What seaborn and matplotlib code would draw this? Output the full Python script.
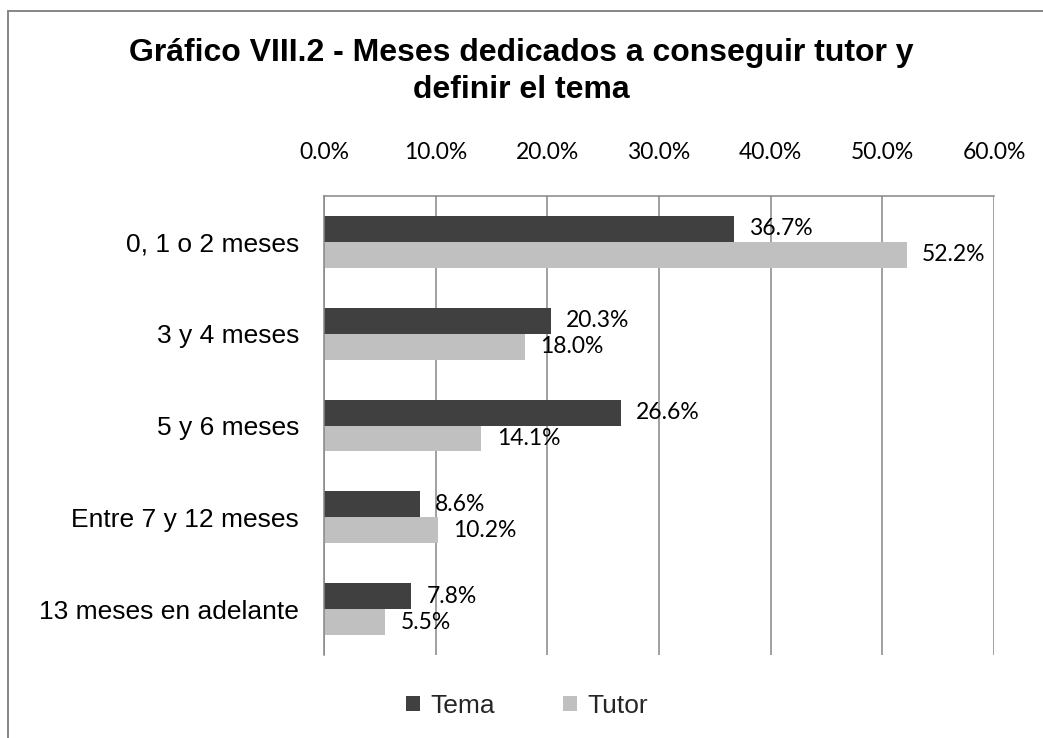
import matplotlib
matplotlib.use("Agg")
import matplotlib.pyplot as plt
import seaborn as sns
import pandas as pd
from matplotlib.lines import Line2D

categories = ["0, 1 o 2 meses", "3 y 4 meses", "5 y 6 meses", "Entre 7 y 12 meses", "13 meses en adelante"]
tema = [36.7, 20.3, 26.6, 8.6, 7.8]
tutor = [52.2, 18.0, 14.1, 10.2, 5.5]
series_names = ["Tema", "Tutor"]
x_ticks = [0, 10, 20, 30, 40, 50, 60]
title = "Gráfico VIII.2 - Meses dedicados a conseguir tutor y\ndefinir el tema"

df = pd.DataFrame({
    "cat": categories * 2,
    "val": tema + tutor,
    "serie": [series_names[0]] * len(categories) + [series_names[1]] * len(categories),
})

sns.set_style("white")
plt.rcParams["font.family"] = ["Liberation Sans", "DejaVu Sans"]

W, H = 1043, 738
fig = plt.figure(figsize=(W / 100, H / 100), dpi=100)
fig.patch.set_facecolor("white")

x0, x1, ytop, ybot = 324, 994, 196, 655
ax = fig.add_axes([x0 / W, 1 - ybot / H, (x1 - x0) / W, (ybot - ytop) / H])

grid_c = "#868686"
palette = {"Tema": "#404040", "Tutor": "#C0C0C0"}
sns.barplot(data=df, y="cat", x="val", hue="serie", orient="h", palette=palette,
            width=0.566, gap=0, saturation=1, order=categories, hue_order=series_names,
            ax=ax, linewidth=0, legend=True)

ax.set_xlim(0, 60)
ax.set_xticks(x_ticks)
ax.xaxis.tick_top()
ax.set_xticklabels([f"{t:.1f}%" for t in x_ticks], family=["Lato", "DejaVu Sans"], fontsize=16.5, color="#000000")
ax.tick_params(axis="x", length=0, pad=24)
ax.tick_params(axis="y", length=0, pad=18, labelsize=19, labelcolor="#000000")
ax.set_xlabel("")
ax.set_ylabel("")
ax.grid(axis="x", color=grid_c, linewidth=1.1)
ax.grid(axis="y", visible=False)
ax.set_axisbelow(True)
for s in ["right", "bottom"]:
    ax.spines[s].set_visible(False)
for s in ["top", "left"]:
    ax.spines[s].set_color(grid_c)
    ax.spines[s].set_linewidth(1.1)

for cont in ax.containers:
    ax.bar_label(cont, labels=[f"{v:.1f}%" for v in cont.datavalues], padding=11,
                 family=["Lato", "DejaVu Sans"], fontsize=16.5, color="#000000")

handles, labels = ax.get_legend_handles_labels()
if ax.get_legend() is not None:
    ax.get_legend().remove()
fig.legend(handles, labels, loc="center", bbox_to_anchor=(527 / W, 1 - 706 / H), ncol=2,
           frameon=False, fontsize=19, handlelength=0.5, handleheight=0.5,
           handletextpad=0.4, columnspacing=2.6)

fig.text(0.5, 1 - 38 / H, title, ha="center", va="top", fontsize=23, fontweight="bold",
         linespacing=1.3, color="#000000")

# chart border (left and top only visible)
fig.add_artist(Line2D([8 / W, 8 / W], [0, 1 - 11 / H], transform=fig.transFigure, color=grid_c, linewidth=1.4))
fig.add_artist(Line2D([8 / W, 1], [1 - 11 / H, 1 - 11 / H], transform=fig.transFigure, color=grid_c, linewidth=1.4))

fig.savefig("out.png", dpi=100, facecolor="white")
